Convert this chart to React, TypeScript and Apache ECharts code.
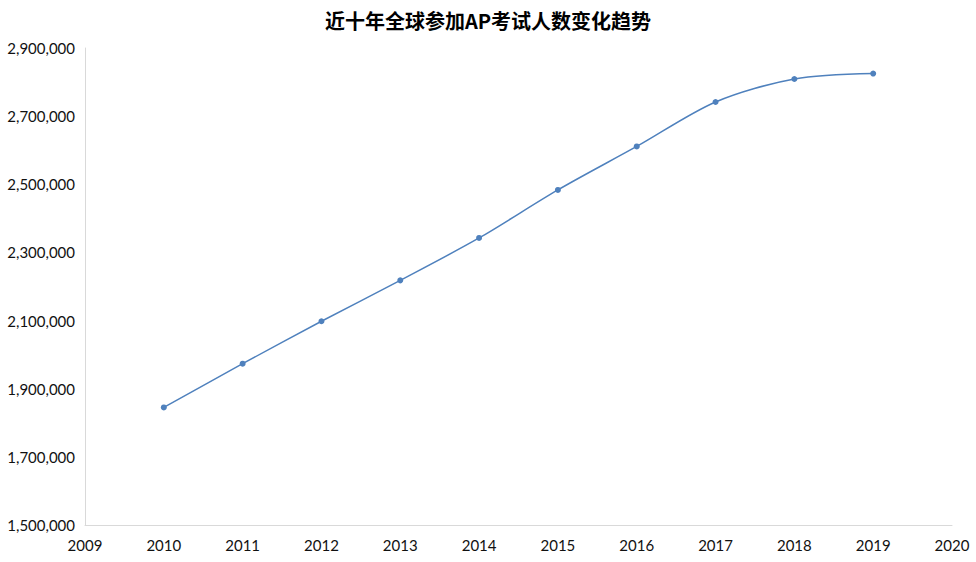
import React, { useEffect, useRef } from "react";
import * as echarts from "echarts";

const years = [2010, 2011, 2012, 2013, 2014, 2015, 2016, 2017, 2018, 2019];
const examTakers = [
  1845000, 1973500, 2098000, 2218000, 2342500, 2483500, 2611000, 2741500,
  2809000, 2825000,
];
const chartTitle = "近十年全球参加AP考试人数变化趋势";

const App: React.FC = () => {
  const chartRef = useRef<HTMLDivElement>(null);

  useEffect(() => {
    if (!chartRef.current) return;
    const chart = echarts.init(chartRef.current, undefined, { renderer: "svg" });

    const labelFont = {
      color: "#111111",
      fontSize: 15,
      fontFamily: "Lato, 'Noto Sans', sans-serif",
    };

    chart.setOption({
      animation: false,
      backgroundColor: "#ffffff",
      title: {
        text: chartTitle,
        left: "center",
        top: 5,
        textStyle: {
          fontSize: 20,
          fontWeight: "bold",
          color: "#000000",
          fontFamily: "'Noto Sans CJK SC', sans-serif",
        },
      },
      grid: { left: 85, right: 24, top: 48, bottom: 37, containLabel: false },
      xAxis: {
        type: "value",
        min: 2009,
        max: 2020,
        interval: 1,
        axisLine: { show: true, lineStyle: { color: "#d9d9d9", width: 1 } },
        axisTick: { show: false },
        splitLine: { show: false },
        axisLabel: { ...labelFont, margin: 12, formatter: (v: number) => String(v) },
      },
      yAxis: {
        type: "value",
        min: 1500000,
        max: 2900000,
        interval: 200000,
        axisLine: { show: true, lineStyle: { color: "#d9d9d9", width: 1 } },
        axisTick: { show: false },
        splitLine: { show: false },
        axisLabel: {
          ...labelFont,
          margin: 10,
          formatter: (v: number) => v.toLocaleString("en-US"),
        },
      },
      series: [
        {
          type: "line",
          data: years.map((y, i) => [y, examTakers[i]]),
          smooth: 0.3,
          symbol: "circle",
          symbolSize: 6,
          lineStyle: { color: "#4f81bd", width: 1.5 },
          itemStyle: { color: "#4f81bd" },
        },
      ],
    });

    return () => chart.dispose();
  }, []);

  return (
    <div
      ref={chartRef}
      style={{ position: "absolute", left: 0, top: 0, width: 976, height: 562 }}
    />
  );
};

export default App;
